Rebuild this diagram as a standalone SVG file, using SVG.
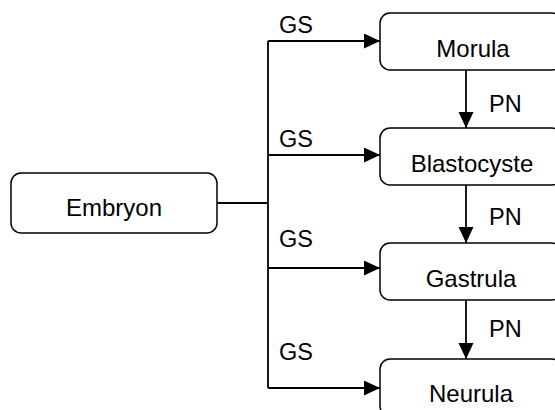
<svg xmlns="http://www.w3.org/2000/svg" width="555" height="410" viewBox="0 0 555 410">
  <style>
    .box { fill: #ffffff; stroke: #000000; stroke-width: 1.5; }
    .label { font-family: "Liberation Sans", Arial, sans-serif; font-size: 24px; fill: #000000; text-anchor: middle; }
    .edge-label { font-family: "Liberation Sans", Arial, sans-serif; font-size: 23.5px; fill: #000000; }
    .conn { fill: none; stroke: #000000; stroke-width: 1.8; }
  </style>
  <defs>
    <marker id="arrow" markerUnits="userSpaceOnUse" markerWidth="16" markerHeight="16" refX="16" refY="7.5" orient="auto">
      <path d="M0,0 L16,7.5 L0,15 Z" fill="#000000"/>
    </marker>
  </defs>
  <rect width="555" height="410" fill="#ffffff"/>

  <!-- connectors -->
  <g id="connectors">
    <path class="conn" d="M217,203 H268"/>
    <path class="conn" d="M268,41 V388"/>
    <path class="conn" d="M268,41 H380" marker-end="url(#arrow)"/>
    <path class="conn" d="M268,155 H380" marker-end="url(#arrow)"/>
    <path class="conn" d="M268,268 H380" marker-end="url(#arrow)"/>
    <path class="conn" d="M268,388 H380" marker-end="url(#arrow)"/>
    <path class="conn" d="M466,70 V128" marker-end="url(#arrow)"/>
    <path class="conn" d="M466,185 V243" marker-end="url(#arrow)"/>
    <path class="conn" d="M466,300 V359" marker-end="url(#arrow)"/>
    <text class="edge-label" x="279" y="33">GS</text>
    <text class="edge-label" x="279" y="147">GS</text>
    <text class="edge-label" x="279" y="247">GS</text>
    <text class="edge-label" x="279" y="360">GS</text>
    <text class="edge-label" x="489" y="112">PN</text>
    <text class="edge-label" x="489" y="225">PN</text>
    <text class="edge-label" x="489" y="337">PN</text>
  </g>

  <g id="embryon">
    <rect class="box" x="11" y="173" width="206" height="60" rx="10"/>
    <text class="label" x="114" y="216">Embryon</text>
  </g>
  <g id="morula">
    <rect class="box" x="380" y="13" width="182" height="57" rx="10"/>
    <text class="label" x="473" y="57">Morula</text>
  </g>
  <g id="blastocyste">
    <rect class="box" x="380" y="128" width="182" height="57" rx="10"/>
    <text class="label" x="472" y="172">Blastocyste</text>
  </g>
  <g id="gastrula">
    <rect class="box" x="380" y="243" width="182" height="57" rx="10"/>
    <text class="label" x="471" y="287">Gastrula</text>
  </g>
  <g id="neurula">
    <rect class="box" x="380" y="359" width="182" height="57" rx="10"/>
    <text class="label" x="471" y="402">Neurula</text>
  </g>
</svg>
